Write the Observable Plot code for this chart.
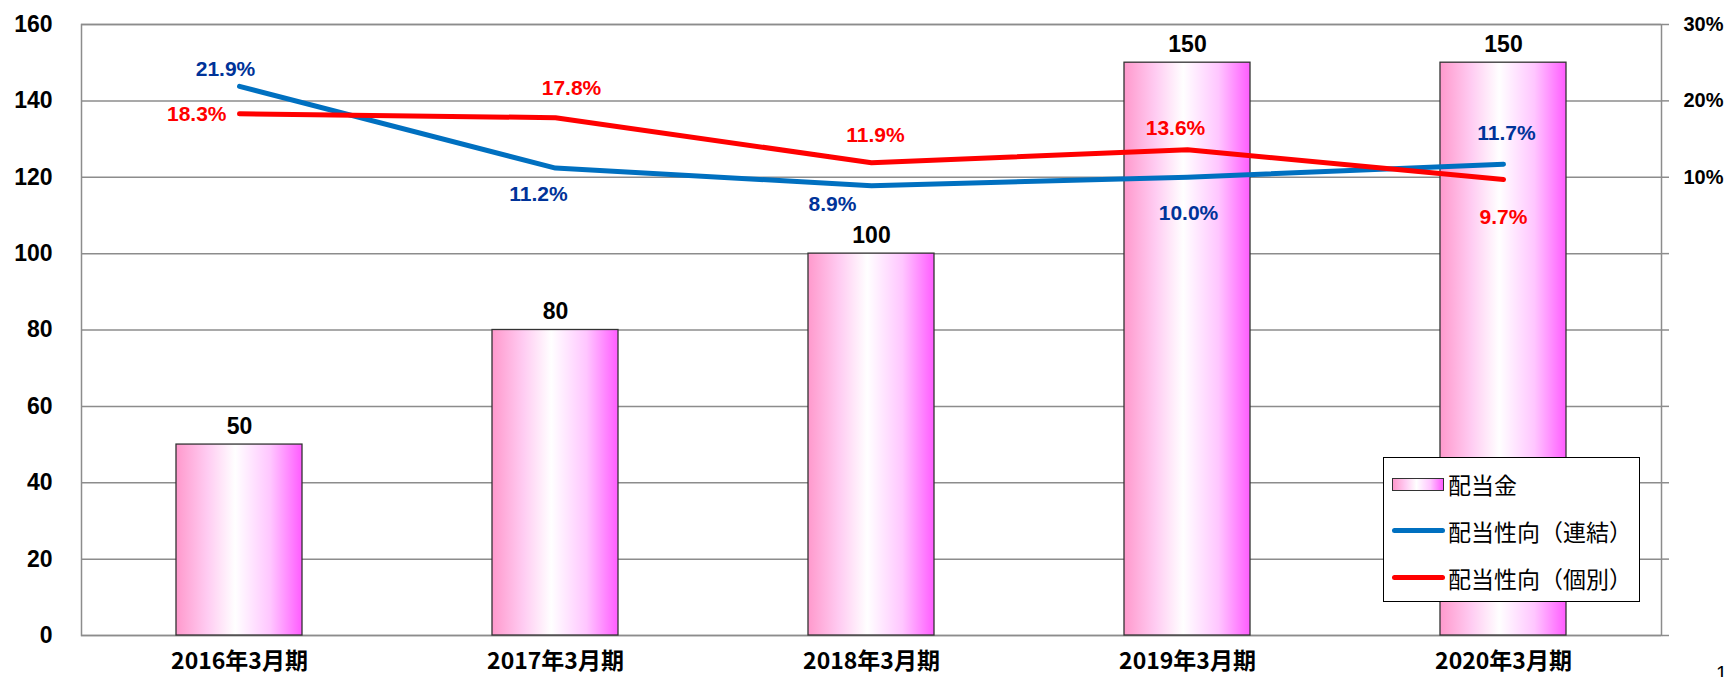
<!DOCTYPE html>
<html><head><meta charset="utf-8">
<script src="https://cdn.jsdelivr.net/npm/d3@7"></script>
<script src="https://cdn.jsdelivr.net/npm/@observablehq/plot@0.6"></script>
<style>
body{margin:0;background:#fff;}
#wrap{position:relative;width:1726px;height:677px;overflow:hidden;background:#fff;}
#legend{position:absolute;left:1383px;top:457px;width:255px;height:143px;border:1px solid #000;background:#fff;font-family:"Noto Sans CJK JP",sans-serif;font-size:23px;color:#000;}
.row{position:absolute;left:0;height:30px;display:flex;align-items:center;}
.sw{position:absolute;left:8px;}
.lab{position:absolute;left:64px;white-space:nowrap;line-height:30px;}
#pg{position:absolute;left:1716px;top:662px;font-family:"Liberation Sans",Arial,sans-serif;font-size:20px;color:#000;}
</style></head><body>
<div id="wrap"></div>
<script>
const periods = ["2016年3月期", "2017年3月期", "2018年3月期", "2019年3月期", "2020年3月期"];
const dividends = [50, 80, 100, 150, 150];
const payoutConsolidated = [21.9, 11.2, 8.9, 10.0, 11.7];
const payoutStandalone = [18.3, 17.8, 11.9, 13.6, 9.7];
const leftTicks = [0, 20, 40, 60, 80, 100, 120, 140, 160];
const rightTickPercents = [10, 20, 30];
const legendLabels = ["配当金", "配当性向（連結）", "配当性向（個別）"];

// right axis: -50%..30% shares the 0..160 left range
const toY = p => 100 + p * 2;

const barRows = periods.map((p, i) => ({period: p, value: dividends[i]}));
const consRows = periods.map((p, i) => ({period: p, value: payoutConsolidated[i]}));
const standRows = periods.map((p, i) => ({period: p, value: payoutStandalone[i]}));

const BLUE = "#0070c0", BLUE_T = "#003399", RED = "#ff0000";
const numFont = "Liberation Sans, Arial, sans-serif";

function pctLabels(rows, color, offsets) {
  return offsets.map(([dx, dy, anchor], i) =>
    Plot.text([rows[i]], {
      x: "period", y: d => toY(d.value), text: d => d.value.toFixed(1) + "%",
      dx, dy, textAnchor: anchor || "middle", fill: color,
      fontSize: 21, fontWeight: "bold", fontFamily: numFont
    }));
}

const chart = Plot.plot({
  width: 1726, height: 677,
  marginLeft: 81, marginRight: 65, marginTop: 24, marginBottom: 42,
  style: {fontFamily: numFont, fontSize: "22px", color: "#000", background: "#fff"},
  x: {type: "band", domain: periods, paddingInner: 0.6, paddingOuter: 0.3, label: null},
  y: {domain: [0, 160], label: null},
  marks: [
    Plot.gridY(leftTicks, {stroke: "#8c8c8c", strokeOpacity: 1, strokeWidth: 1.5}),
    Plot.axisY(leftTicks, {anchor: "right", tickSize: 7, tickFormat: () => "", stroke: "#8c8c8c", strokeWidth: 1.5, label: null}),
    Plot.frame({stroke: "#8c8c8c", strokeWidth: 1.5}),
    Plot.barY(barRows, {x: "period", y: "value", fill: "url(#barGrad)", stroke: "#333", strokeWidth: 1.3}),
    Plot.text(barRows, {x: "period", y: "value", text: d => String(d.value), dy: -18, fontSize: 23, fontWeight: "bold", fill: "#000"}),
    Plot.line(consRows, {x: "period", y: d => toY(d.value), stroke: BLUE, strokeWidth: 5, strokeLinecap: "round", strokeLinejoin: "round"}),
    Plot.line(standRows, {x: "period", y: d => toY(d.value), stroke: RED, strokeWidth: 5, strokeLinecap: "round", strokeLinejoin: "round"}),
    ...pctLabels(consRows, BLUE_T, [[-14, -17], [-17, 26], [-39, 19], [1, 36], [3, -31]]),
    ...pctLabels(standRows, RED, [[-13, 0, "end"], [16, -29], [4, -27], [-12, -21], [0, 38]]),
    Plot.axisY(leftTicks, {anchor: "left", tickSize: 0, tickPadding: 29, fontSize: 23, fontWeight: "bold", label: null}),
    Plot.axisY(rightTickPercents.map(toY), {anchor: "right", tickSize: 0, tickPadding: 22, fontSize: 20, fontWeight: "bold", label: null, tickFormat: v => ((v - 100) / 2) + "%"}),
    Plot.axisX({tickSize: 0, tickPadding: 17, fontSize: 23, fontWeight: "bold", fontFamily: "Noto Sans CJK JP, sans-serif", label: null})
  ]
});

const defs = d3.select(chart).insert("defs", ":first-child");
const g = defs.append("linearGradient").attr("id", "barGrad").attr("x1", "0").attr("x2", "1").attr("y1", "0").attr("y2", "0");
[["0%", "#ff99cc"], ["25%", "#ffccf2"], ["47%", "#ffffff"], ["75%", "#ffc6ff"], ["100%", "#ff5cff"]]
  .forEach(([o, c]) => g.append("stop").attr("offset", o).attr("stop-color", c));

const wrap = document.getElementById("wrap");
wrap.appendChild(chart);

const legend = document.createElement("div");
legend.id = "legend";
const swatches = [
  `<div class="sw" style="top:9px;width:50px;height:11px;border:1px solid #333;background:linear-gradient(to right,#ff99cc,#ffccf2 25%,#fff 47%,#ffc6ff 75%,#ff5cff)"></div>`,
  `<div class="sw" style="top:12px;width:53px;height:5px;border-radius:3px;background:${BLUE}"></div>`,
  `<div class="sw" style="top:12px;width:53px;height:5px;border-radius:3px;background:${RED}"></div>`
];
const rowTops = [11, 58, 105];
legend.innerHTML = legendLabels.map((t, i) =>
  `<div class="row" style="top:${rowTops[i]}px;width:255px">${swatches[i]}<span class="lab">${t}</span></div>`).join("");
wrap.appendChild(legend);

const pg = document.createElement("div");
pg.id = "pg"; pg.textContent = "1";
wrap.appendChild(pg);
</script>
</body></html>
